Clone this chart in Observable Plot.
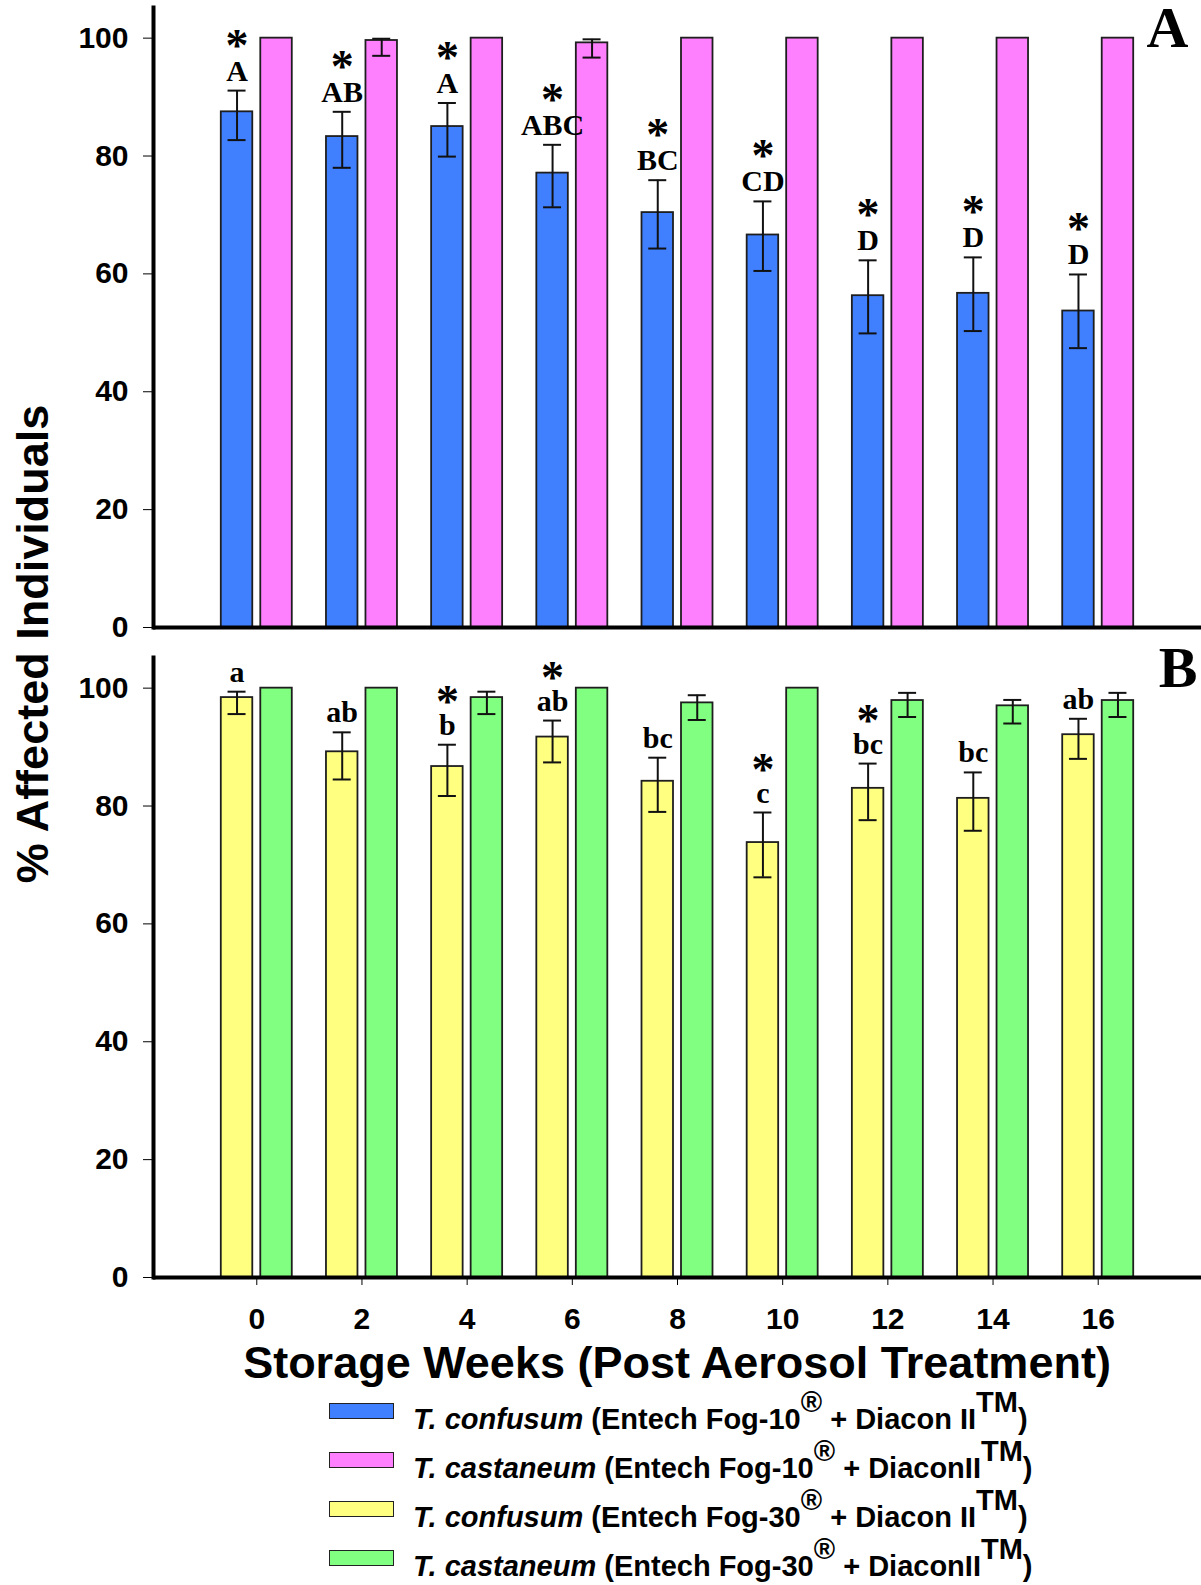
<!DOCTYPE html>
<html>
<head>
<meta charset="utf-8">
<script src="https://cdn.jsdelivr.net/npm/d3@7"></script>
<script src="https://cdn.jsdelivr.net/npm/@observablehq/plot@0.6"></script>
<style>
  html, body { margin: 0; padding: 0; background: #fff; overflow: hidden; }
  #wrap { position: relative; width: 1201px; height: 1585px; overflow: hidden;
          font-family: "Liberation Sans", Arial, sans-serif; color: #000; }
  #panelA, #panelB { position: absolute; left: 0; }
  #panelA { top: 0; }
  #panelB { top: 642px; }
  #ytitle { position: absolute; left: 32px; top: 644px; transform: translate(-50%, -50%) rotate(-90deg);
            font-size: 45px; font-weight: bold; white-space: nowrap; line-height: 45px; }
  #xtitle { position: absolute; left: 0; width: 1354px; top: 1340px; text-align: center;
            font-size: 45px; font-weight: bold; white-space: nowrap; line-height: 45px; }
  .row { position: absolute; left: 0; width: 1201px; height: 29px; font-size: 29px; line-height: 29px;
         font-weight: bold; white-space: nowrap; }
  .sw { position: absolute; left: 329px; top: -2px; width: 63px; height: 14px; border: 1.5px solid #222; }
  .tx { position: absolute; left: 413px; top: 0; }
  .tx i { font-style: italic; }
  .sup { font-size: 29px; position: relative; top: -17px; font-weight: bold; }
</style>
</head>
<body>
<div id="wrap">
  <div id="panelA"></div>
  <div id="panelB"></div>
  <div id="ytitle">% Affected Individuals</div>
  <div id="xtitle">Storage Weeks (Post Aerosol Treatment)</div>
  <div id="legend"></div>
</div>
<script>
// ---------------- data ----------------
const weeks = [0, 2, 4, 6, 8, 10, 12, 14, 16];
const yTicks = [0, 20, 40, 60, 80, 100];

// Panel A : Entech Fog-10 + Diacon II
const confusumFog10   = [87.5, 83.3, 85.0, 77.1, 70.4, 66.6, 56.3, 56.7, 53.7];
const confusumFog10Lo = [82.7, 78.0, 79.9, 71.3, 64.3, 60.5, 49.9, 50.3, 47.4];
const confusumFog10Hi = [91.1, 87.5, 89.0, 81.9, 75.9, 72.3, 62.3, 62.8, 59.9];
const castaneumFog10   = [100, 99.6, 100, 99.2, 100, 100, 100, 100, 100];
const castaneumFog10Lo = [null, 97.0, null, 96.7, null, null, null, null, null];
const castaneumFog10Hi = [null, 99.9, null, 99.8, null, null, null, null, null];
const lettersA = ["A", "AB", "A", "ABC", "BC", "CD", "D", "D", "D"];
const starsA   = [true, true, true, true, true, true, true, true, true];

// Panel B : Entech Fog-30 + Diacon II
const confusumFog30   = [98.4, 89.2, 86.7, 91.7, 84.2, 73.8, 83.0, 81.3, 92.1];
const confusumFog30Lo = [95.6, 84.5, 81.7, 87.4, 79.0, 67.9, 77.6, 75.8, 88.0];
const confusumFog30Hi = [99.4, 92.5, 90.4, 94.5, 88.2, 78.9, 87.2, 85.7, 94.8];
const castaneumFog30   = [100, 100, 98.4, 100, 97.5, 100, 97.9, 97.0, 97.9];
const castaneumFog30Lo = [null, null, 95.6, null, 94.6, null, 95.1, 94.0, 95.1];
const castaneumFog30Hi = [null, null, 99.4, null, 98.8, null, 99.2, 98.0, 99.2];
const lettersB = ["a", "ab", "b", "ab", "bc", "c", "bc", "bc", "ab"];
const starsB   = [false, false, true, true, false, true, true, false, false];

const seriesColors = ["#4080ff", "#ff80ff", "#ffff80", "#80ff80"];
const legendSpecies = ["T. confusum", "T. castaneum", "T. confusum", "T. castaneum"];
const legendFog = ["10", "10", "30", "30"];
const legendDiacon = ["Diacon II", "DiaconII", "Diacon II", "DiaconII"];

// ---------------- drawing ----------------
const BAR_STROKE = "#1e1e1e";
const SERIF = "'Liberation Serif', 'Times New Roman', serif";
const SANS = "'Liberation Sans', Arial, sans-serif";
const BAND_INSET = 39.5;   // each bar takes ~31.5 px of the 71 px group band
const HALF = 19.75;        // offset from group centre to bar centre
const CAP_IN = 6.75, CAP_OUT = 46.25;

function panel(cfg) {
  const rows = weeks.map((w, i) => ({
    week: w, left: cfg.left[i], right: cfg.right[i],
    lLo: cfg.leftLo[i], lHi: cfg.leftHi[i],
    rLo: cfg.rightLo[i], rHi: cfg.rightHi[i],
    letter: cfg.letters[i], star: cfg.stars[i]
  }));
  const rErr = rows.filter(d => d.rLo != null);
  const errStyle = {stroke: "#111", strokeWidth: 2};
  return Plot.plot({
    width: 1201,
    height: cfg.height,
    marginLeft: 153,
    marginRight: 0,
    marginTop: cfg.marginTop,
    marginBottom: cfg.marginBottom,
    style: {fontFamily: SANS, fontSize: "30px", fontWeight: "bold", color: "#000", background: "transparent", overflow: "visible"},
    x: {type: "band", domain: weeks, paddingInner: 0.325, paddingOuter: 0.6445, round: false,
        axis: cfg.showX ? "bottom" : null, tickSize: 8, tickPadding: 22, label: null},
    y: {domain: [0, 105.2], ticks: yTicks, tickSize: 10, tickPadding: 15, label: null},
    marks: [
      Plot.barY(rows, {x: "week", y: "left", fill: cfg.colors[0], stroke: BAR_STROKE, strokeWidth: 1.8, insetRight: BAND_INSET}),
      Plot.barY(rows, {x: "week", y: "right", fill: cfg.colors[1], stroke: BAR_STROKE, strokeWidth: 1.8, insetLeft: BAND_INSET}),
      Plot.ruleX(rows, {x: "week", y1: "lLo", y2: "lHi", dx: -HALF, ...errStyle}),
      Plot.tickY(rows, {x: "week", y: "lHi", insetLeft: CAP_IN, insetRight: CAP_OUT, ...errStyle}),
      Plot.tickY(rows, {x: "week", y: "lLo", insetLeft: CAP_IN, insetRight: CAP_OUT, ...errStyle}),
      Plot.ruleX(rErr, {x: "week", y1: "rLo", y2: "rHi", dx: HALF, ...errStyle}),
      Plot.tickY(rErr, {x: "week", y: "rHi", insetLeft: CAP_OUT, insetRight: CAP_IN, ...errStyle}),
      Plot.tickY(rErr, {x: "week", y: "rLo", insetLeft: CAP_OUT, insetRight: CAP_IN, ...errStyle}),
      Plot.text(rows, {x: "week", y: "lHi", text: "letter", dx: -HALF, dy: -10, lineAnchor: "bottom",
                       fontFamily: SERIF, fontSize: 30, fontWeight: "bold", fill: "#000"}),
      Plot.text(rows.filter(d => d.star), {x: "week", y: "lHi", text: () => "*", dx: -HALF, dy: cfg.starDy,
                       lineAnchor: "bottom", fontFamily: SERIF, fontSize: 46, fontWeight: "bold", fill: "#000"}),
      Plot.text([cfg.tag], {frameAnchor: "top-right", text: d => d, textAnchor: "end", lineAnchor: "top",
                       dx: cfg.tagDx, dy: cfg.tagDy, fontFamily: SERIF, fontSize: 58, fontWeight: "bold", fill: "#000"}),
      Plot.ruleY([0], {stroke: "#000", strokeWidth: 4}),
      Plot.frame({anchor: "left", stroke: "#000", strokeWidth: 4})
    ]
  });
}

document.getElementById("panelA").append(panel({
  left: confusumFog10, leftLo: confusumFog10Lo, leftHi: confusumFog10Hi,
  right: castaneumFog10, rightLo: castaneumFog10Lo, rightHi: castaneumFog10Hi,
  letters: lettersA, stars: starsA, colors: [seriesColors[0], seriesColors[1]],
  tag: "A", tagDx: -13, tagDy: -2, starDy: -30,
  height: 642, marginTop: 7, marginBottom: 15, showX: false
}));

document.getElementById("panelB").append(panel({
  left: confusumFog30, leftLo: confusumFog30Lo, leftHi: confusumFog30Hi,
  right: castaneumFog30, rightLo: castaneumFog30Lo, rightHi: castaneumFog30Hi,
  letters: lettersB, stars: starsB, colors: [seriesColors[2], seriesColors[3]],
  tag: "B", tagDx: -4, tagDy: -11.5, starDy: -28,
  height: 700, marginTop: 15, marginBottom: 65, showX: true
}));

// legend
const legend = document.getElementById("legend");
const baselines = [1429, 1478.3, 1527, 1576.5];
legendSpecies.forEach((sp, i) => {
  const row = document.createElement("div");
  row.className = "row";
  row.style.top = (baselines[i] - 24.5) + "px";
  const sw = document.createElement("div");
  sw.className = "sw";
  sw.style.background = seriesColors[i];
  const tx = document.createElement("div");
  tx.className = "tx";
  tx.innerHTML = `<i>${sp}</i> (Entech Fog-${legendFog[i]}<span class="sup">®</span> + ${legendDiacon[i]}<span class="sup">TM</span>)`;
  row.append(sw, tx);
  legend.append(row);
});
</script>
</body>
</html>
